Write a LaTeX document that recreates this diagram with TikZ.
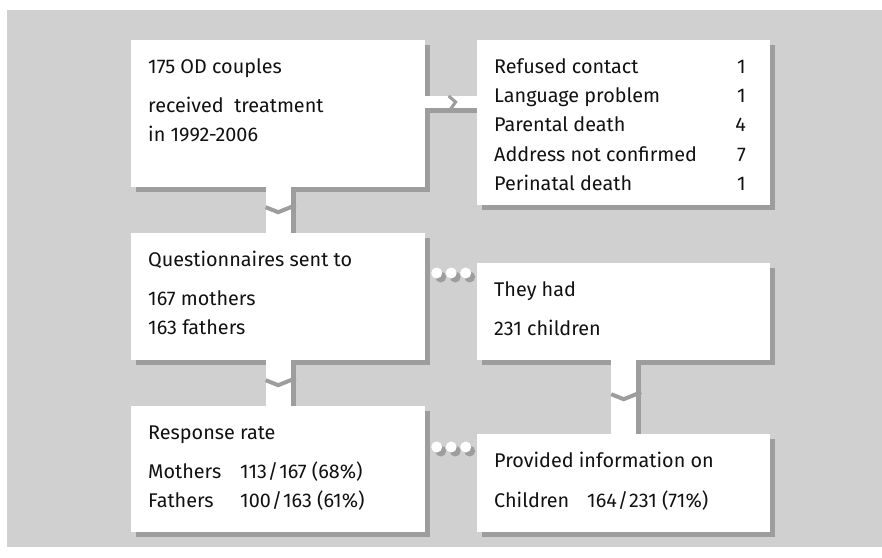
\documentclass[tikz,border=0pt]{standalone}
\usepackage{fontspec}
\setmainfont{Fira Sans}
\usetikzlibrary{calc,shadows}

\definecolor{bggray}{HTML}{D0D0D0}
\definecolor{shgray}{HTML}{9D9D9D}
\definecolor{ink}{HTML}{111111}

\tikzset{
  box/.style={fill=white, anchor=north west, inner sep=0pt,
    drop shadow={shadow xshift=5pt, shadow yshift=-5pt, fill=shgray, opacity=1}},
  txt/.style={anchor=base west, inner sep=0pt, text=ink, font=\fontsize{19.8}{22}\selectfont},
  num/.style={txt, anchor=base east},
  ribbon/.style={white, line width=25pt},
  ribbonshadow/.style={shgray, line width=25pt},
  band/.style={white, line width=12pt},
  bandshadow/.style={shgray, line width=12pt},
  fold/.style={shgray, line width=4pt},
  dot/.style={fill=white},
  dotshadow/.style={fill=shgray}
}

\begin{document}
\begin{tikzpicture}[x=1pt, y=-1pt]
\useasboundingbox (0,0) rectangle (882,557);
\fill[bggray] (7,10) rectangle (882,547);

% boxes
\node[box, minimum width=294pt, minimum height=147pt] (start) at (131,40) {};
\node[box, minimum width=293pt, minimum height=165pt] (excl) at (477,40) {};
\node[box, minimum width=294pt, minimum height=127pt] (sent) at (131,233) {};
\node[box, minimum width=293pt, minimum height=97pt] (had) at (477,263) {};
\node[box, minimum width=294pt, minimum height=126pt] (resp) at (131,406) {};
\node[box, minimum width=293pt, minimum height=98pt] (info) at (477,434) {};

% vertical connectors
\foreach \a/\b in {start/sent, sent/resp, had/info} {
  \draw[ribbonshadow] ([xshift=5pt]\a.south) -- ([xshift=5pt]\b.north);
  \draw[ribbon] (\a.south) -- (\b.north);
  \draw[fold] ($(\a.south)!0.5!(\b.north)+(-12.5,-3)$) -- ++(12.5,5) -- ++(12.5,-5) -- ++(5,-2);
}

% horizontal connector
\coordinate (sl) at ($(start.north east)+(0,62)$);
\coordinate (sr) at ($(excl.north west)+(0,62)$);
\draw[bandshadow] ($(sl)+(5,5)$) -- ($(sr)+(0,5)$);
\draw[band] (sl) -- (sr);
\draw[fold, line width=3pt] ($(sl)!0.45!(sr)+(0,-6)$) -- ++(7,6) -- ++(-5,7);

% dots
\coordinate (d1) at ($(sent.north east)!0.5!(had.north west)+(0,25)$);
\coordinate (d2) at ($(resp.north east)!0.5!(info.north west)+(0,27)$);
\foreach \d in {d1, d2} {
  \foreach \i in {-1,0,1} \fill[dotshadow] ($(\d)+(14.5*\i+4,4)$) circle (5.5);
  \foreach \i in {-1,0,1} \fill[dot] ($(\d)+(14.5*\i,0)$) circle (5.5);
}

% texts
\node[txt] (t1) at (148,73) {175 OD couples};
\node[txt] (t2) at (148,112) {received~ treatment};
\node[txt] (t3) at (148,141) {in 1992-2006};

\node[txt] (e1) at (494,73) {Refused contact};
\node[txt] (e2) at (494,102) {Language problem};
\node[txt] (e3) at (494,131) {Parental death};
\node[txt] (e4) at (494,161) {Address not confirmed};
\node[txt] (e5) at (494,190) {Perinatal death};
\node[num] (n1) at (746,73) {1};
\node[num] (n2) at (746,102) {1};
\node[num] (n3) at (746,131) {4};
\node[num] (n4) at (746,161) {7};
\node[num] (n5) at (746,190) {1};

\node[txt] (q1) at (148,266) {Questionnaires sent to};
\node[txt] (q2) at (148,305) {167 mothers};
\node[txt] (q3) at (148,334) {163 fathers};

\node[txt] (h1) at (494,296) {They had};
\node[txt] (h2) at (494,335) {231 children};

\node[txt] (r1) at (148,439) {Response rate};
\node[txt] (r2) at (148,478) {Mothers};
\node[txt] (r3) at (148,507) {Fathers};
\node[txt] (r4) at (240,478) {113\kern1pt/\kern1pt167 (68\%)};
\node[txt] (r5) at (240,507) {100\kern1pt/\kern1pt163 (61\%)};

\node[txt] (p1) at (494,467) {Provided information on};
\node[txt] (p2) at (494,507) {Children};
\node[txt] (p3) at (587,507) {164\kern1pt/\kern1pt231 (71\%)};
\end{tikzpicture}
\end{document}
